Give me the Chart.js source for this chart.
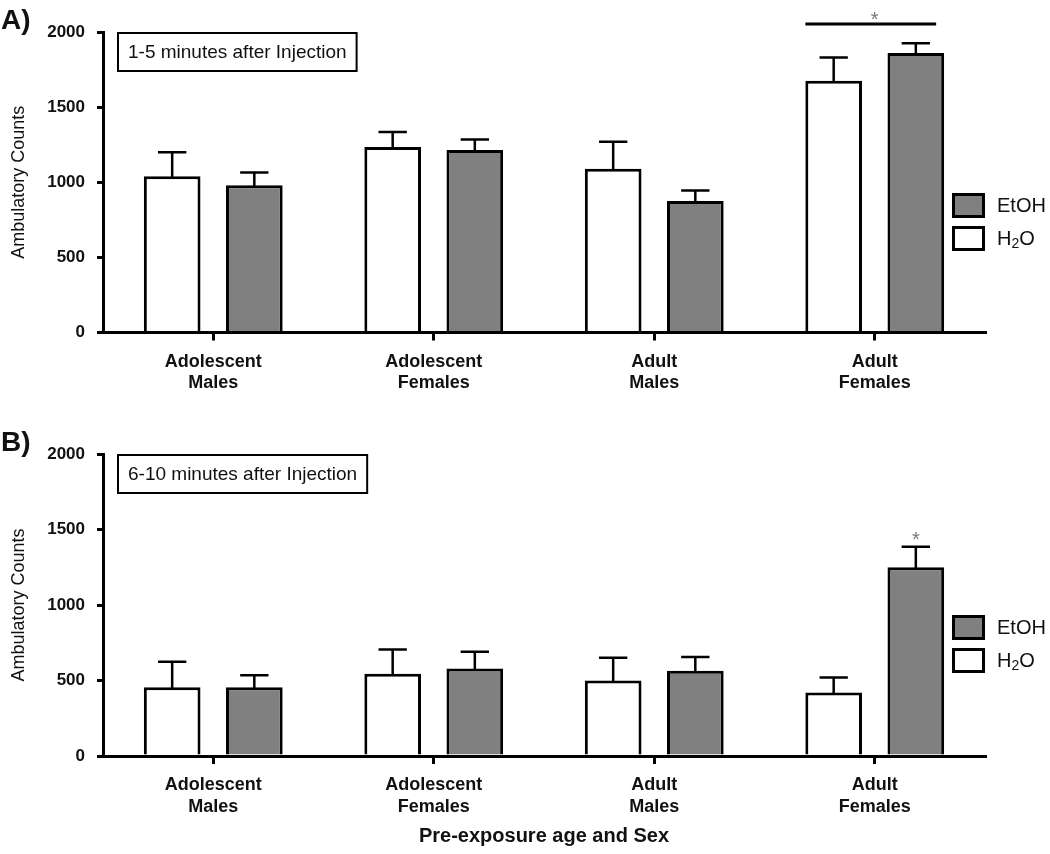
<!DOCTYPE html>
<html><head><meta charset="utf-8">
<script src="https://cdn.jsdelivr.net/npm/chart.js@4.4.0/dist/chart.umd.min.js"></script>
<style>
html,body{margin:0;padding:0;background:#fff;}
#wrap{position:relative;width:1050px;height:854px;background:#fff;}
canvas{position:absolute;left:0;}
</style></head><body>
<div id="wrap">
<canvas id="cA" width="1050" height="420" style="top:0px"></canvas>
<canvas id="cB" width="1050" height="434" style="top:420px"></canvas>
</div>
<script>
// ---- data ----
const categories = [["Adolescent","Males"],["Adolescent","Females"],["Adult","Males"],["Adult","Females"]];
const seriesNames = ["H2O","EtOH"];
const h2oA = [1040, 1235, 1090, 1675];
const h2oErrA = [160, 100, 180, 155];
const etohA = [980, 1215, 875, 1860];
const etohErrA = [85, 70, 70, 65];
const h2oB = [455, 545, 500, 420];
const h2oErrB = [170, 160, 150, 100];
const etohB = [455, 580, 565, 1250];
const etohErrB = [80, 110, 90, 135];
const yTicks = [0, 500, 1000, 1500, 2000];
const panelLabels = ["A)", "B)"];
const boxTexts = ["1-5 minutes after Injection", "6-10 minutes after Injection"];
const yTitle = "Ambulatory Counts";
const xTitle = "Pre-exposure age and Sex";
const legendOrder = ["EtOH", "H2O"];
const sigA = {kind: "bracket", index: 3};
const sigB = {kind: "star", dataset: 1, index: 3};

const FONT = "'Liberation Sans', Arial, Helvetica, sans-serif";
const GRAY = "#808080";
const INK = "#111";

function drawLabelText(ctx, txt, x, y, size) {
  // renders digits after letters as subscripts (H2O)
  let cx = x;
  for (let k = 0; k < txt.length; k++) {
    const ch = txt[k];
    if (/[0-9]/.test(ch) && k > 0) {
      ctx.font = Math.round(size * 0.68) + "px " + FONT;
      ctx.fillText(ch, cx, y + size * 0.28);
      cx += ctx.measureText(ch).width;
    } else {
      ctx.font = size + "px " + FONT;
      ctx.fillText(ch, cx, y);
      cx += ctx.measureText(ch).width;
    }
  }
}

const decor = {
  id: "decor",
  afterDatasetsDraw(chart) {
    const ctx = chart.ctx, ys = chart.scales.y;
    ctx.save();
    ctx.strokeStyle = "#000";
    ctx.lineWidth = 2.5;
    chart.data.datasets.forEach((ds, di) => {
      const meta = chart.getDatasetMeta(di);
      meta.data.forEach((bar, i) => {
        const top = ys.getPixelForValue(ds.data[i] + ds.errors[i]);
        const half = bar.width / 4;
        ctx.beginPath();
        ctx.moveTo(bar.x, bar.y + 1);
        ctx.lineTo(bar.x, top);
        ctx.moveTo(bar.x - half, top);
        ctx.lineTo(bar.x + half, top);
        ctx.stroke();
      });
    });
    ctx.restore();
  },
  afterDraw(chart, args, o) {
    const ctx = chart.ctx, ca = chart.chartArea, ys = chart.scales.y, xs = chart.scales.x;
    ctx.save();
    // panel label
    ctx.fillStyle = INK;
    ctx.font = "bold 28px " + FONT;
    ctx.textBaseline = "alphabetic";
    ctx.textAlign = "left";
    ctx.fillText(o.panel, 1, ca.top - 3);
    // annotation box
    ctx.font = "19px " + FONT;
    const tw = ctx.measureText(o.box).width;
    const bx = ca.left + 15, by = ca.top + 1, bw = tw + 20, bh = 38;
    ctx.lineWidth = 2;
    ctx.strokeStyle = "#000";
    ctx.strokeRect(bx, by, bw, bh);
    ctx.textBaseline = "middle";
    ctx.fillText(o.box, bx + 10, by + bh / 2 + 1);
    // legend
    const lx = ca.right - 33, ly0 = ca.top + 161;
    legendOrder.forEach((name, k) => {
      const ds = chart.data.datasets.find(d => d.label === name);
      const ly = ly0 + k * 33;
      ctx.fillStyle = ds.backgroundColor;
      ctx.fillRect(lx, ly, 33, 25);
      ctx.lineWidth = 3;
      ctx.strokeStyle = "#000";
      ctx.strokeRect(lx + 1.5, ly + 1.5, 30, 22);
      ctx.fillStyle = INK;
      ctx.textBaseline = "middle";
      drawLabelText(ctx, name, ca.right + 12, ly + 13, 20);
    });
    // significance
    const sig = o.sig;
    ctx.fillStyle = "#777";
    ctx.font = "20px " + FONT;
    ctx.textAlign = "center";
    ctx.textBaseline = "alphabetic";
    if (sig.kind === "bracket") {
      const b0 = chart.getDatasetMeta(0).data[sig.index];
      const b1 = chart.getDatasetMeta(1).data[sig.index];
      const yb = ca.top - 8;
      ctx.strokeStyle = "#000";
      ctx.lineWidth = 3;
      ctx.beginPath();
      ctx.moveTo(b0.x - b0.width / 2, yb);
      ctx.lineTo(b1.x + b1.width / 2 - 8, yb);
      ctx.stroke();
      ctx.fillText("*", xs.getPixelForValue(sig.index), yb + 2);
    } else {
      const ds = chart.data.datasets[sig.dataset];
      const b = chart.getDatasetMeta(sig.dataset).data[sig.index];
      const top = ys.getPixelForValue(ds.data[sig.index] + ds.errors[sig.index]);
      ctx.fillText("*", b.x, top - 1);
    }
    ctx.restore();
  }
};

function makeChart(id, h2o, h2oErr, etoh, etohErr, cfg) {
  return new Chart(document.getElementById(id), {
    type: "bar",
    data: {
      labels: categories,
      datasets: [
        {label: seriesNames[0], data: h2o, errors: h2oErr, backgroundColor: "#ffffff",
         borderColor: "#000", borderWidth: 3, borderSkipped: "start",
         barPercentage: 0.69, categoryPercentage: 0.745},
        {label: seriesNames[1], data: etoh, errors: etohErr, backgroundColor: GRAY,
         borderColor: "#000", borderWidth: 3, borderSkipped: "start",
         barPercentage: 0.69, categoryPercentage: 0.745}
      ]
    },
    plugins: [decor],
    options: {
      responsive: false,
      animation: false,
      devicePixelRatio: 1,
      layout: {padding: {top: cfg.top, right: 65, left: 0, bottom: 0}},
      plugins: {
        legend: {display: false},
        tooltip: {enabled: false},
        decor: {panel: cfg.panel, box: cfg.box, sig: cfg.sig}
      },
      scales: {
        x: {
          offset: true,
          afterFit: s => { s.height = cfg.xh; },
          grid: {display: true, drawOnChartArea: false, drawTicks: true, tickLength: 8,
                 offset: false, color: "#000", lineWidth: 3},
          border: {display: true, color: "#000", width: 3},
          ticks: {color: INK, padding: 11, maxRotation: 0, autoSkip: false,
                  font: {family: FONT, size: 18, weight: "bold", lineHeight: 1.17}},
          title: {display: cfg.xtitle, text: xTitle, color: INK,
                  font: {family: FONT, size: 20, weight: "bold"}, padding: {top: 0, bottom: 6}}
        },
        y: {
          min: 0, max: 2000,
          afterFit: s => { s.width = 103; },
          afterBuildTicks: s => { s.ticks = yTicks.map(v => ({value: v})); },
          grid: {display: true, drawOnChartArea: false, drawTicks: true, tickLength: 6,
                 color: "#000", lineWidth: 3},
          border: {display: true, color: "#000", width: 3},
          ticks: {color: INK, padding: 12, font: {family: FONT, size: 17, weight: "bold"},
                  callback: v => String(v)},
          title: {display: true, text: yTitle, color: INK,
                  font: {family: FONT, size: 18}, padding: {top: 8, bottom: 0}}
        }
      }
    }
  });
}

makeChart("cA", h2oA, h2oErrA, etohA, etohErrA,
  {top: 32, xh: 87.5, panel: panelLabels[0], box: boxTexts[0], sig: sigA, xtitle: false});
makeChart("cB", h2oB, h2oErrB, etohB, etohErrB,
  {top: 34, xh: 98, panel: panelLabels[1], box: boxTexts[1], sig: sigB, xtitle: true});
</script>
</body></html>
